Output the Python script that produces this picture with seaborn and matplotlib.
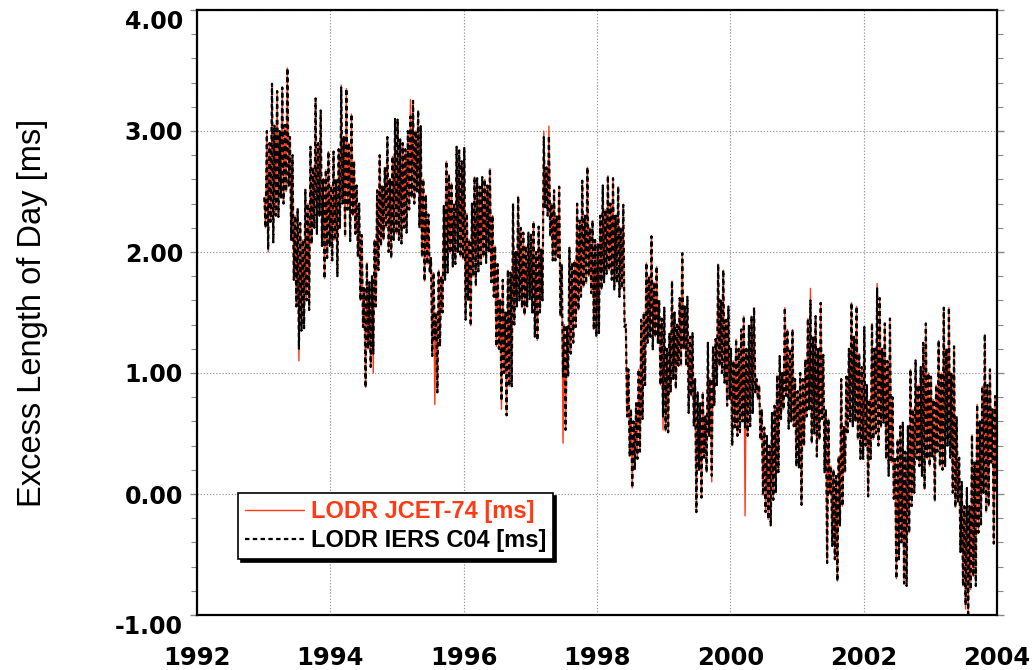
import numpy as np
import pandas as pd
import matplotlib
matplotlib.use("Agg")
import matplotlib.pyplot as plt
import seaborn as sns

# ---- Data: weekly LODR values (IERS C04), alternating fortnightly highs / lows ----
c04_1993 = [2.45, 2.20, 3.00, 2.02, 2.90, 2.25, 3.39, 2.08, 3.05, 2.30, 3.33, 2.29, 3.00, 2.45, 3.36, 2.40,
            3.05, 2.50, 3.52, 2.54, 2.95, 2.10, 2.80, 1.77, 2.30, 1.55, 2.36, 1.20, 2.24, 1.35, 2.10, 1.37,
            2.52, 1.60, 2.40, 1.52, 2.87, 2.07, 2.70, 2.20, 3.27, 2.15, 2.90, 2.30, 3.17, 2.05, 2.60, 1.78,
            2.68, 1.95, 2.83, 2.05]
c04_1994 = [2.55, 1.93, 2.83, 2.10, 2.60, 1.80, 2.85, 2.20, 3.36, 2.40, 2.95, 2.13, 3.35, 2.35, 2.90, 2.09,
            3.14, 2.30, 2.75, 2.15, 2.55, 1.96, 2.40, 1.60, 2.14, 1.38, 1.70, 0.88, 1.91, 1.20, 1.75, 1.05,
            1.80, 1.16, 2.10, 1.55, 2.51, 1.85, 2.80, 2.05, 2.55, 2.10, 2.70, 2.20, 2.95, 2.00, 2.60, 1.95,
            2.79, 2.10, 3.10, 2.15]
c04_1995 = [3.10, 2.10, 2.93, 2.07, 2.90, 2.20, 2.85, 2.16, 3.00, 2.35, 3.12, 2.45, 3.25, 2.40, 3.00, 2.50,
            3.17, 2.20, 3.04, 1.96, 2.60, 1.76, 2.47, 1.90, 2.31, 1.83, 1.95, 1.14, 1.83, 1.28, 1.50, 0.84,
            1.85, 1.22, 1.80, 1.50, 2.38, 1.77, 2.75, 1.83, 2.64, 1.99, 2.57, 1.88, 2.40, 1.90, 2.87, 2.00,
            2.84, 1.96, 2.75, 1.94]
c04_1996 = [2.86, 1.44, 2.32, 1.60, 2.10, 1.39, 2.40, 1.80, 2.62, 1.72, 2.61, 1.84, 2.54, 1.90, 2.62, 1.96,
            2.60, 1.91, 2.55, 2.00, 2.69, 1.75, 2.30, 1.63, 2.05, 1.22, 1.90, 1.20, 1.61, 0.77, 1.77, 1.00,
            1.50, 0.65, 1.85, 0.89, 1.83, 0.89, 2.40, 1.40, 2.00, 1.55, 2.46, 1.60, 2.20, 1.54, 2.16, 1.48,
            2.05, 1.55, 2.16, 1.61]
c04_1997 = [2.15, 1.50, 2.25, 1.30, 2.00, 1.27, 2.21, 1.50, 2.02, 1.60, 2.95, 2.37, 2.70, 2.30, 2.96, 2.13,
            2.40, 1.93, 2.51, 1.93, 2.30, 1.96, 2.54, 1.47, 1.90, 0.97, 1.40, 0.53, 1.38, 0.97, 2.04, 1.16,
            1.91, 1.25, 1.93, 1.38, 2.40, 1.52, 2.26, 1.63, 2.59, 1.71, 2.30, 1.74, 2.70, 1.80, 2.20, 1.66,
            2.26, 1.36, 2.10, 1.30]
c04_1998 = [2.07, 1.33, 2.30, 1.69, 2.55, 1.75, 2.35, 1.82, 2.63, 1.85, 2.40, 1.77, 2.61, 1.69, 2.30, 1.75,
            2.54, 1.63, 2.20, 1.70, 2.39, 1.38, 1.40, 0.64, 1.03, 0.31, 0.70, 0.05, 0.60, 0.20, 0.75, 0.29,
            1.03, 0.35, 1.44, 0.62, 1.50, 0.90, 1.91, 1.25, 1.80, 1.30, 2.13, 1.19, 1.75, 1.30, 1.88, 1.25,
            1.60, 0.90, 1.45, 0.64]
c04_1999 = [1.54, 0.52, 1.20, 0.51, 1.33, 0.84, 1.76, 0.95, 1.50, 0.87, 1.40, 1.06, 1.62, 1.06, 1.99, 1.20,
            1.55, 1.06, 1.63, 0.67, 1.30, 0.81, 1.33, 0.56, 0.95, -0.15, 0.84, 0.20, 0.75, -0.03, 0.84, 0.30,
            0.65, 0.18, 1.25, 0.48, 0.95, 0.15, 1.22, 0.73, 1.28, 0.90, 1.90, 1.06, 1.60, 1.00, 1.85, 0.92,
            1.44, 0.73, 1.55, 0.78]
c04_2000 = [1.20, 0.40, 1.10, 0.55, 1.28, 0.48, 1.20, 0.51, 1.36, 0.60, 1.47, 0.55, 1.20, 0.48, 1.39, 0.56,
            1.47, 0.67, 1.54, 0.84, 0.95, 0.78, 0.90, 0.45, 0.70, -0.01, 0.55, -0.15, 0.48, -0.21, 0.40, -0.26,
            0.67, -0.05, 0.73, 0.01, 0.98, 0.18, 1.14, 0.62, 1.00, 0.70, 1.54, 0.81, 1.36, 0.54, 1.20, 0.60,
            1.36, 0.56, 0.95, 0.23]
c04_2001 = [0.85, 0.22, 1.00, -0.09, 0.95, 0.40, 1.11, 0.64, 1.45, 0.70, 1.60, 0.42, 1.30, 0.50, 1.47, 0.31,
            1.20, 0.45, 1.58, 0.62, 1.15, 0.18, 0.70, -0.57, 0.62, 0.01, 0.23, -0.43, 0.20, -0.54, 0.15, -0.72,
            0.31, -0.26, 0.95, -0.10, 0.56, 0.18, 0.97, 0.51, 1.20, 0.60, 1.58, 0.56, 1.30, 0.60, 1.55, 0.45,
            1.16, 0.29, 1.05, 0.29]
c04_2002 = [1.38, 0.40, 0.90, -0.02, 0.78, 0.29, 1.41, 0.45, 1.20, 0.50, 1.70, 0.40, 1.62, 0.55, 1.20, 0.59,
            1.41, 0.29, 1.10, 0.15, 1.45, 0.26, 0.80, -0.04, 0.29, -0.70, 0.45, -0.54, 0.56, -0.40, 0.59, -0.74,
            0.35, -0.76, 0.56, -0.32, 1.03, -0.10, 0.70, 0.01, 1.11, 0.29, 0.90, 0.23, 1.05, 0.15, 1.25, 0.04,
            1.41, 0.29, 1.00, 0.23]
c04_2003 = [0.97, 0.31, 0.78, -0.06, 0.90, 0.35, 1.27, 0.23, 1.00, 0.20, 1.54, 0.23, 1.20, 0.40, 1.54, 0.30,
            1.00, 0.01, 1.22, -0.11, 0.64, -0.07, 0.30, -0.48, 0.10, -0.76, -0.10, -0.92, 0.05, -0.99, -0.10, -0.79,
            0.49, -0.68, 0.26, -0.76, 0.74, -0.32, 0.60, -0.26, 0.89, 0.01, 1.32, -0.15, 0.90, -0.10, 1.03, 0.26,
            0.70, -0.41, 0.81, 0.01]

years = [1993, 1994, 1995, 1996, 1997, 1998, 1999, 2000, 2001, 2002, 2003]
c04_by_year = [c04_1993, c04_1994, c04_1995, c04_1996, c04_1997, c04_1998,
               c04_1999, c04_2000, c04_2001, c04_2002, c04_2003]

# JCET-74 follows C04 closely; places where it departs visibly (spikes)
jcet_spike_dates = [1993.07, 1993.55, 1994.15, 1994.64, 1995.18, 1995.575, 1996.55, 1997.19,
                    1997.26, 1997.50, 1998.97, 1999.70, 2000.23, 2001.20, 2002.18, 2003.52]
jcet_spike_values = [2.00, 1.10, 3.38, 1.00, 3.26, 0.74, 0.70, 3.00,
                     3.04, 0.42, 0.53, 0.10, -0.18, 1.70, 1.74, -0.95]

series_labels = ["LODR JCET-74 [ms]", "LODR IERS C04 [ms]"]
x_ticks = [1992, 1994, 1996, 1998, 2000, 2002, 2004]
y_ticks = [-1.0, 0.0, 1.0, 2.0, 3.0, 4.0]
y_label = "Excess Length of Day [ms]"

# ---- Build tables ----
t_list, v_list = [], []
for yr, vals in zip(years, c04_by_year):
    n = len(vals)
    for i, v in enumerate(vals):
        t_list.append(yr + (i + 0.5) / n)
        v_list.append(v)
t_arr = np.array(t_list)
c04 = np.array(v_list)
jcet = c04.copy()
for d, v in zip(jcet_spike_dates, jcet_spike_values):
    n0 = int(np.argmin(np.abs(t_arr - d)))
    cand = [k for k in (n0 - 1, n0, n0 + 1) if 0 <= k < len(c04)]
    k = min(cand, key=lambda k: abs(c04[k] - v))
    jcet[k] = v

df_jcet = pd.DataFrame({"year": t_arr, "lodr": jcet, "series": series_labels[0]})
df_c04 = pd.DataFrame({"year": t_arr, "lodr": c04, "series": series_labels[1]})

# ---- Plot ----
sns.set_theme(style="white")
plt.rcParams["font.family"] = ["DejaVu Sans"]

fig = plt.figure(figsize=(10.34, 6.70), dpi=100)
ax = fig.add_axes([197 / 1034, 1 - 615 / 670, 800 / 1034, 605 / 670])

red = "#ff3a14"
sns.lineplot(data=df_jcet, x="year", y="lodr", ax=ax, color=red, linewidth=1.0,
             estimator=None, sort=False, label=series_labels[0])
sns.lineplot(data=df_c04, x="year", y="lodr", ax=ax, color="black", linewidth=1.6,
             estimator=None, sort=False, label=series_labels[1])
ax.lines[1].set_dashes((2.0, 1.5))

ax.set_xlim(1992, 2004)
ax.set_ylim(-1.0, 4.0)
ax.set_xticks(x_ticks)
ax.set_yticks(y_ticks)
ax.set_yticks(np.arange(-1.0, 4.001, 0.2), minor=True)
ax.set_xticklabels([str(x) for x in x_ticks])
ax.set_yticklabels([f"{y:.2f}" for y in y_ticks])

ax.grid(True, which="major", color="#9a9a9a", linestyle=(0, (1.2, 1.6)), linewidth=0.8)
ax.set_axisbelow(True)

for s in ax.spines.values():
    s.set_color("black")
    s.set_linewidth(1.6)

ax.tick_params(axis="x", which="both", length=0, pad=22, labelsize=17.5, labelcolor="black")
ax.tick_params(axis="y", which="major", direction="out", length=5, width=1.0, color="#888888",
               left=True, right=True, labelsize=17, pad=5, labelcolor="black")
ax.tick_params(axis="y", which="minor", direction="out", length=4, width=0.8, color="#888888",
               left=True, right=True)
for lab in ax.get_xticklabels() + ax.get_yticklabels():
    lab.set_fontweight("bold")
for lab in ax.get_yticklabels():
    if lab.get_text() in ("4.00", "-1.00"):
        lab.set_va("top")

ax.set_xlabel("")
ax.set_ylabel(y_label, fontsize=23.5, family=["Liberation Sans", "DejaVu Sans"],
              va="center", color="black")
ax.yaxis.set_label_coords(-0.206, 0.5)

leg = ax.legend(loc="lower left", bbox_to_anchor=(0.051, 0.0926), borderaxespad=0,
                frameon=True, fancybox=False, shadow={"color": "black", "alpha": 1.0},
                prop={"family": ["Liberation Sans", "DejaVu Sans"], "weight": "bold", "size": 17},
                handlelength=2.5, handletextpad=0.3, labelspacing=0.25, borderpad=0.3)
leg.get_frame().set_edgecolor("black")
leg.get_frame().set_linewidth(1.2)
leg.get_frame().set_facecolor("white")
leg.get_texts()[0].set_color(red)
leg.get_texts()[1].set_color("black")

fig.savefig("out.png", dpi=100)
